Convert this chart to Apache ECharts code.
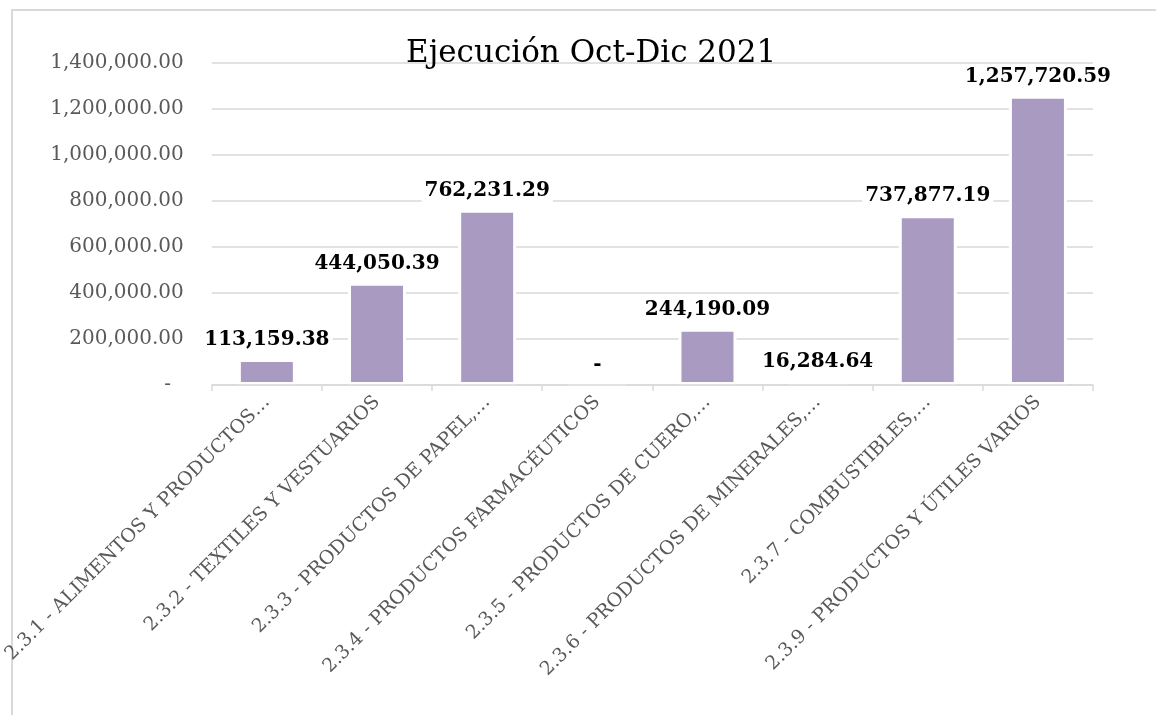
<!DOCTYPE html>
<html>
<head>
<meta charset="utf-8">
<title>Ejecución Oct-Dic 2021</title>
<script src="https://cdn.jsdelivr.net/npm/echarts@6/dist/echarts.min.js"></script>
<style>
    html, body { margin: 0; padding: 0; background: #fff; }
    #chart { width: 1156px; height: 715px; }
</style>
</head>
<body>
<div id="chart"></div>
<script>
    // categorias tal como salen en el eje (recortadas con …)
    var categorias = [
        '2.3.1 - ALIMENTOS Y PRODUCTOS…',
        '2.3.2 - TEXTILES Y VESTUARIOS',
        '2.3.3 - PRODUCTOS DE PAPEL,…',
        '2.3.4 - PRODUCTOS FARMACÉUTICOS',
        '2.3.5 - PRODUCTOS DE CUERO,…',
        '2.3.6 - PRODUCTOS DE MINERALES,…',
        '2.3.7 - COMBUSTIBLES,…',
        '2.3.9 - PRODUCTOS Y ÚTILES VARIOS'
    ];
    var ejecucion = [113159.38, 444050.39, 762231.29, 0, 244190.09, 16284.64, 737877.19, 1257720.59];
    var ejeMin = 0;
    var ejeMax = 1400000;
    var ejePaso = 200000;

    var serif = 'DejaVu Serif';

    function formato(v) {
        if (v === 0) return '-';
        return v.toLocaleString('en-US', {minimumFractionDigits: 2, maximumFractionDigits: 2});
    }

    var chart = echarts.init(document.getElementById('chart'));
    var option = {
        backgroundColor: '#fff',
        animation: false,
        //titulo
        title: {
            text: 'Ejecución Oct-Dic 2021',
            left: 401,
            top: 33,
            textStyle: {
                fontFamily: serif,
                fontSize: 31,
                fontWeight: 'normal',
                color: '#000'
            }
        },
        //marco del grafico
        graphic: [{
            type: 'rect',
            silent: true,
            z: -1,
            shape: {x: 12, y: 10, width: 1300, height: 900},
            style: {fill: null, stroke: '#d9d9d9', lineWidth: 2}
        }],
        grid: {
            left: 208,
            right: 63,
            top: 63,
            bottom: 330
        },
        xAxis: {
            type: 'category',
            data: categorias,
            z: 10,
            axisLine: {lineStyle: {color: '#d9d9d9', width: 1.5}},
            axisTick: {show: true, length: 6, lineStyle: {color: '#d9d9d9', width: 1.5}},
            axisLabel: {
                interval: 0,
                rotate: 45,
                margin: 14,
                fontFamily: serif,
                fontSize: 19,
                color: '#595959'
            }
        },
        yAxis: {
            type: 'value',
            min: ejeMin,
            max: ejeMax,
            interval: ejePaso,
            axisLine: {show: false},
            axisTick: {show: false},
            splitLine: {lineStyle: {color: '#d9d9d9', width: 1.5}},
            axisLabel: {
                margin: 28,
                fontFamily: serif,
                fontSize: 20,
                color: '#595959',
                formatter: function(v) {
                    return v === 0 ? '-  ' : formato(v);
                }
            }
        },
        series: [{
            name: 'Ejecución',
            type: 'bar',
            data: ejecucion,
            barWidth: 58,
            itemStyle: {
                color: '#A99AC1',
                borderColor: '#fff',
                borderWidth: 3
            },
            label: {
                show: true,
                position: 'top',
                distance: 7,
                fontFamily: serif,
                fontSize: 20,
                fontWeight: 'bold',
                color: '#000',
                backgroundColor: '#fff',
                padding: [2, 3],
                formatter: function(p) {
                    return formato(p.value);
                }
            }
        }]
    };
    chart.setOption(option);
</script>
</body>
</html>
